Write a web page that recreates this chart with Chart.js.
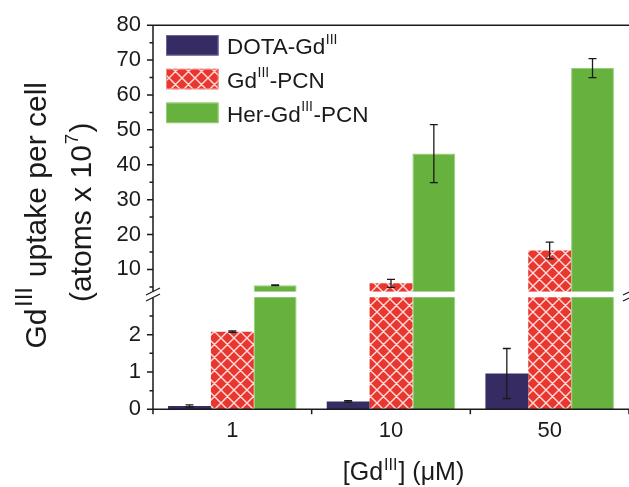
<!DOCTYPE html>
<html><head><meta charset="utf-8">
<script src="https://cdn.jsdelivr.net/npm/chart.js@4.4.0/dist/chart.umd.min.js"></script>
<style>html,body{margin:0;padding:0;background:#fff;}</style>
</head><body>
<canvas id="c" width="629" height="487" style="width:629px;height:487px;display:block"></canvas>
<script>
// ---- data ----
const categories = ['1', '10', '50'];
const seriesLabels = ['DOTA-Gd^{III}', 'Gd^{III}-PCN', 'Her-Gd^{III}-PCN'];
const dotaValues = [0.09, 0.21, 0.96];
const dotaErrors = [0.03, 0.02, 0.67];
const pcnValues  = [2.08, 6.02, 15.4];
const pcnErrors  = [0.02, 1.15, 2.4];
const herValues  = [5.45, 43.2, 67.7];
const herErrors  = [0.1, 8.3, 2.7];
const lowerTicks = [0, 1, 2];
const upperTicks = [10, 20, 30, 40, 50, 60, 70, 80];
const xTitle = '[Gd^{III}] (\u03bcM)';
const yTitleLines = ['Gd^{III} uptake per cell', '(atoms x 10^{7})'];
const breakLow = 3;     // top of lower segment
const breakHigh = 3.6;  // bottom of upper segment

// ---- style ----
const FONT = "'Liberation Sans', Arial, sans-serif";
const INK = '#1a1a1a';
const NAVY = '#362b62';
const RED = '#e8372f';
const GREEN = '#67b13f';

const ctx0 = document.getElementById('c').getContext('2d');
function makeHatch(s) {
  const c = document.createElement('canvas'); c.width = s; c.height = s;
  const g = c.getContext('2d');
  g.fillStyle = RED; g.fillRect(0, 0, s, s);
  g.strokeStyle = 'rgba(255,235,235,0.92)'; g.lineWidth = 1.4;
  g.beginPath();
  for (const k of [-1, 0, 1]) {
    g.moveTo(-2, -2 + k * s); g.lineTo(s + 2, s + 2 + k * s);
    g.moveTo(-2, s + 2 + k * s); g.lineTo(s + 2, -2 + k * s);
  }
  g.stroke();
  return ctx0.createPattern(c, 'repeat');
}
const hatch = makeHatch(13);

const seriesValues = [dotaValues, pcnValues, herValues];
const seriesErrors = [dotaErrors, pcnErrors, herErrors];
const seriesFill = [NAVY, hatch, GREEN];
const seriesBorder = [NAVY, RED, '#93cf74'];

const datasets = [];
seriesValues.forEach((vals, i) => {
  for (const ax of ['yU', 'yL']) {
    datasets.push({
      label: seriesLabels[i], data: vals, yAxisID: ax, stack: 's' + i,
      backgroundColor: seriesFill[i], borderColor: seriesBorder[i],
      borderWidth: i === 2 ? 1 : 0, borderSkipped: 'start',
      categoryPercentage: 0.81, barPercentage: 1.0
    });
  }
});

function parseRich(s) {
  const out = []; const re = /\^\{([^}]*)\}/g; let last = 0, m;
  while ((m = re.exec(s))) {
    if (m.index > last) out.push({ t: s.slice(last, m.index), sup: false });
    out.push({ t: m[1], sup: true }); last = re.lastIndex;
  }
  if (last < s.length) out.push({ t: s.slice(last), sup: false });
  return out;
}
function drawRich(ctx, s, x, y, o) {
  const segs = parseRich(s); let w = 0;
  const fontOf = g => g.sup ? `${o.supWeight || 'normal'} ${o.supSize}px ${FONT}` : `normal ${o.size}px ${FONT}`;
  segs.forEach(g => { ctx.font = fontOf(g); g.w = ctx.measureText(g.t).width + (g.sup ? 2 * (o.supGap || 1) : 0); w += g.w; });
  let cx = o.align === 'center' ? x - w / 2 : x;
  ctx.textAlign = 'left'; ctx.textBaseline = 'alphabetic'; ctx.fillStyle = INK;
  segs.forEach(g => {
    ctx.font = fontOf(g);
    ctx.fillText(g.t, cx + (g.sup ? (o.supGap || 1) : 0), g.sup ? y - o.raise : y);
    cx += g.w;
  });
}

function segClip(chart, axisId) {
  const { yU, yL } = chart.scales;
  if (axisId === 'yU') return [yU.top, yU.getPixelForValue(breakHigh)];
  return [yL.getPixelForValue(breakLow), yL.bottom];
}

const clipPlugin = {
  id: 'segClip',
  beforeDatasetDraw(chart, args) {
    const a = chart.chartArea; const [t, b] = segClip(chart, args.meta.yAxisID);
    chart.ctx.save(); chart.ctx.beginPath(); chart.ctx.rect(a.left, t, a.right - a.left, b - t); chart.ctx.clip();
  },
  afterDatasetDraw(chart) { chart.ctx.restore(); }
};

const errorPlugin = {
  id: 'errBars',
  afterDatasetsDraw(chart) {
    const ctx = chart.ctx; const a = chart.chartArea;
    seriesValues.forEach((vals, i) => {
      vals.forEach((v, j) => {
        const axisId = v > breakLow ? 'yU' : 'yL';
        const scale = chart.scales[axisId];
        const dsIndex = i * 2 + (axisId === 'yU' ? 0 : 1);
        const bar = chart.getDatasetMeta(dsIndex).data[j];
        const e = seriesErrors[i][j];
        const x = bar.x, y1 = scale.getPixelForValue(v + e), y2 = scale.getPixelForValue(v - e);
        const [t, b] = segClip(chart, axisId);
        ctx.save(); ctx.beginPath(); ctx.rect(a.left, t, a.right - a.left, b - t); ctx.clip();
        ctx.strokeStyle = INK; ctx.lineWidth = 1.3;
        ctx.beginPath();
        ctx.moveTo(x, y1); ctx.lineTo(x, y2);
        ctx.moveTo(x - 4, y1); ctx.lineTo(x + 4, y1);
        ctx.moveTo(x - 4, y2); ctx.lineTo(x + 4, y2);
        ctx.stroke(); ctx.restore();
      });
    });
  }
};

function minorsOf(ticks, min, max) {
  const out = []; const step = ticks[1] - ticks[0];
  const first = ticks[0] - step / 2; if (first >= min) out.push(first);
  for (let k = 0; k < ticks.length - 1; k++) out.push((ticks[k] + ticks[k + 1]) / 2);
  const lastM = ticks[ticks.length - 1] + step / 2; if (lastM <= max) out.push(lastM);
  return out;
}

const axesPlugin = {
  id: 'axesDraw',
  afterDraw(chart) {
    const { ctx, chartArea: a, scales: { yU, yL } } = chart;
    ctx.save();
    ctx.strokeStyle = INK; ctx.lineWidth = 1.5;
    const gapTop = yU.getPixelForValue(breakHigh), gapBot = yL.getPixelForValue(breakLow);
    const gc = (gapTop + gapBot) / 2;
    ctx.beginPath();
    ctx.moveTo(a.left, a.top); ctx.lineTo(a.right, a.top);
    ctx.moveTo(a.left, a.top); ctx.lineTo(a.left, gc - 3);
    ctx.moveTo(a.left, gc + 3); ctx.lineTo(a.left, a.bottom + 5);
    ctx.moveTo(a.left, a.bottom); ctx.lineTo(a.right, a.bottom);
    upperTicks.forEach(v => { const y = yU.getPixelForValue(v); ctx.moveTo(a.left - 6, y); ctx.lineTo(a.left, y); });
    lowerTicks.forEach(v => { const y = yL.getPixelForValue(v); ctx.moveTo(a.left - 6, y); ctx.lineTo(a.left, y); });
    minorsOf(upperTicks, breakHigh, 80).forEach(v => { const y = yU.getPixelForValue(v); ctx.moveTo(a.left - 3.5, y); ctx.lineTo(a.left, y); });
    minorsOf(lowerTicks, 0, breakLow).forEach(v => { const y = yL.getPixelForValue(v); ctx.moveTo(a.left - 3.5, y); ctx.lineTo(a.left, y); });
    const cw = (a.right - a.left) / categories.length;
    for (let k = 1; k <= categories.length; k++) { const x = a.left + k * cw; ctx.moveTo(x, a.bottom); ctx.lineTo(x, a.bottom + 5); }
    ctx.stroke();
    ctx.lineWidth = 1.2; ctx.beginPath();
    for (const cx of [a.left, a.right + 1]) {
      for (const c of [gc - 3, gc + 3]) { ctx.moveTo(cx - 7, c + 3.5); ctx.lineTo(cx + 7, c - 3.5); }
    }
    ctx.stroke();
    // legend
    const boxX = 166, boxW = 52.5, boxH = 20.5, top0 = 35, step = 33.8;
    seriesLabels.forEach((lab, i) => {
      const t = top0 + i * step;
      ctx.fillStyle = seriesFill[i]; ctx.fillRect(boxX, t, boxW, boxH);
      ctx.lineWidth = 1; ctx.strokeStyle = i === 0 ? '#6a64a0' : (i === 1 ? '#f08a84' : '#93cf74');
      ctx.strokeRect(boxX + 0.5, t + 0.5, boxW - 1, boxH - 1);
      drawRich(ctx, lab, 227, t + 19, { size: 22.5, supSize: 14, raise: 10.5, supGap: 0.5 });
    });
    // axis titles
    drawRich(ctx, xTitle, 403.5, 480, { size: 25, supSize: 16, raise: 10, align: 'center', supGap: 1 });
    const tcy = (a.top + a.bottom) / 2;
    ctx.save(); ctx.translate(46, tcy - 2); ctx.rotate(-Math.PI / 2);
    drawRich(ctx, yTitleLines[0], 0, 0, { size: 30, supSize: 24, raise: 14, align: 'center', supGap: 1.5 });
    ctx.restore();
    ctx.save(); ctx.translate(91, tcy - 5); ctx.rotate(-Math.PI / 2);
    drawRich(ctx, yTitleLines[1], 0, 0, { size: 30, supSize: 19, raise: 13, align: 'center', supGap: 1 });
    ctx.restore();
    ctx.restore();
  }
};

const tickFont = { family: FONT, size: 22 };
new Chart(document.getElementById('c'), {
  type: 'bar',
  data: { labels: categories, datasets },
  plugins: [clipPlugin, errorPlugin, axesPlugin],
  options: {
    responsive: false, animation: false, devicePixelRatio: 1,
    layout: { padding: { top: 25, left: 0, right: 0, bottom: 0 } },
    plugins: { legend: { display: false }, tooltip: { enabled: false } },
    scales: {
      x: {
        type: 'category', offset: true,
        grid: { display: false, drawTicks: false }, border: { display: false },
        ticks: { padding: 8, color: INK, font: tickFont, autoSkip: false, maxRotation: 0 },
        afterFit: s => { s.height = 77.7; }
      },
      yU: {
        type: 'linear', position: 'left', stack: 'brk', stackWeight: 266.7, weight: 2,
        stacked: false, min: breakHigh, max: 80,
        afterBuildTicks: s => { s.ticks = upperTicks.map(v => ({ value: v })); },
        grid: { display: false, drawTicks: false }, border: { display: false },
        ticks: { padding: 12, color: INK, font: tickFont, autoSkip: false },
        afterFit: s => { s.width = 153; }
      },
      yL: {
        type: 'linear', position: 'left', stack: 'brk', stackWeight: 117.6, weight: 1,
        stacked: false, min: 0, max: 3.15,
        afterBuildTicks: s => { s.ticks = lowerTicks.map(v => ({ value: v })); },
        grid: { display: false, drawTicks: false }, border: { display: false },
        ticks: { padding: 12, color: INK, font: tickFont, autoSkip: false },
        afterFit: s => { s.width = 153; }
      }
    }
  }
});
</script>
</body></html>
